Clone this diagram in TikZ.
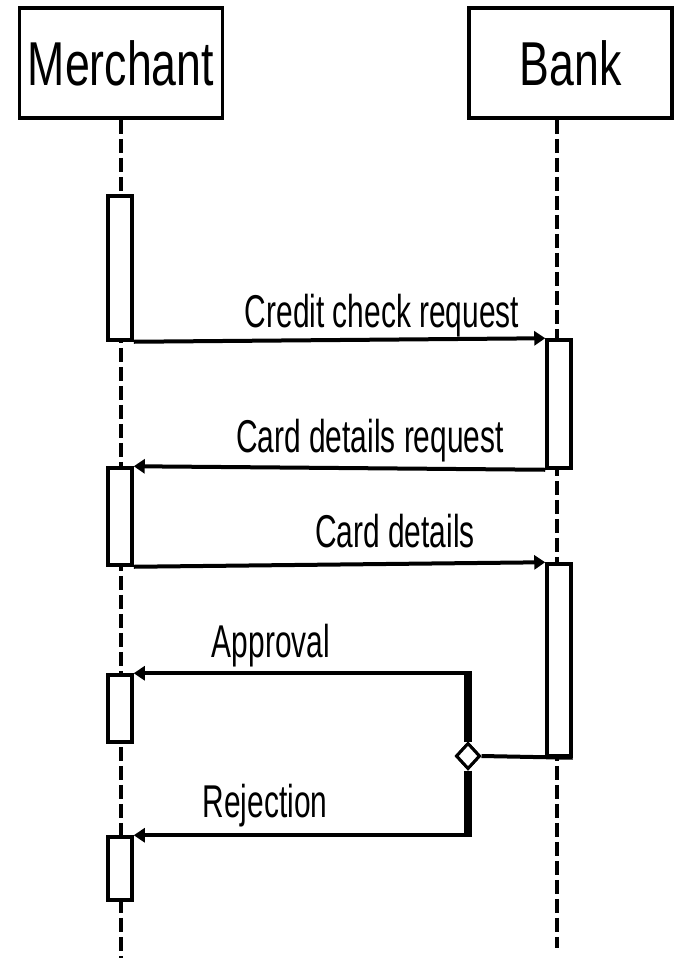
\documentclass[tikz,border=0pt]{standalone}
\usepackage{graphicx}
\usepackage{fontspec}
\setmainfont{Liberation Sans}
\usetikzlibrary{arrows.meta,shapes.geometric}

\begin{document}
\begin{tikzpicture}[x=1pt,y=-1pt,
  lane/.style={line width=3.5pt, dash pattern=on 14pt off 5pt},
  headbox/.style={draw, line width=3.5pt, minimum width=203pt, minimum height=110pt,
    inner sep=0pt, font=\fontsize{62}{62}\selectfont},
  actbox/.style={draw, line width=3.5pt, fill=white, minimum width=24pt, inner sep=0pt},
  msg/.style={line width=4pt, -{Triangle[length=11pt,width=14pt]}},
  branch/.style={line width=8pt},
  lbl/.style={font=\fontsize{46}{46}\selectfont, xscale=0.65, anchor=base, inner sep=0pt},
  choice/.style={diamond, draw, line width=3pt, fill=white, inner sep=0pt,
    minimum width=24pt, minimum height=26pt},
]
\useasboundingbox (0,0) rectangle (677,959);

% participants
\node[headbox] (merchant) at (121,63) {\scalebox{0.72}[1]{Merchant}};
\node[headbox] (bank) at (570.5,63) {\scalebox{0.72}[1]{Bank}};

% lifelines
\coordinate (mEnd) at (121,958);
\coordinate (bEnd) at (557,948);
\draw[lane] (merchant.south) -- (mEnd);
\draw[lane] (bank.south -| bEnd) -- (bEnd);

% activation bars
\node[actbox, minimum height=144pt] (mA1) at (120,268) {};
\node[actbox, minimum height=97pt]  (mA2) at (120,516.5) {};
\node[actbox, minimum height=67pt]  (mA3) at (120,708.5) {};
\node[actbox, minimum height=63pt]  (mA4) at (120,868.5) {};
\node[actbox, minimum height=128pt] (bA1) at (559,404) {};
\node[actbox, minimum height=192pt] (bA2) at (559,660) {};

% messages
\draw[msg] (mA1.south east) -- (bA1.north west);
\draw[msg] (bA1.south west) -- (mA2.north east);
\draw[msg] (mA2.south east) -- (bA2.north west);

% decision
\node[choice] (dec) at (468,756) {};
\draw[line width=4pt] (bA2.south east) -- (dec.east);

\coordinate (apprCorner) at (dec.north |- mA3.north);
\coordinate (rejCorner) at (dec.south |- mA4.north);
\draw[branch] (dec.north) -- ([yshift=2pt]apprCorner);
\draw[branch] (dec.south) -- ([yshift=-2pt]rejCorner);
\draw[msg] ([xshift=4pt]apprCorner) -- (mA3.north east);
\draw[msg] ([xshift=4pt]rejCorner) -- (mA4.north east);
\node[choice] at (dec) {};

% labels
\node[lbl] (l1) at (382,327) {Credit check request};
\node[lbl] (l2) at (370,452) {Card details request};
\node[lbl] (l3) at (395,547) {Card details};
\node[lbl] (l4) at (271,657) {Approval};
\node[lbl] (l5) at (265,817) {Rejection};
\end{tikzpicture}
\end{document}
